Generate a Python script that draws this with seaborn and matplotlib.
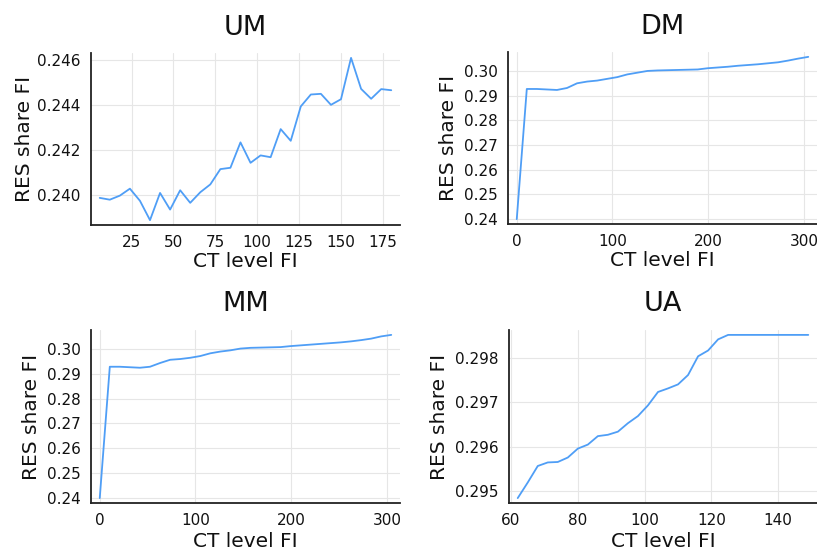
import matplotlib
matplotlib.use("Agg")
import matplotlib.pyplot as plt
import matplotlib.ticker as mticker
import numpy as np
import pandas as pd
import seaborn as sns

# ---- data -------------------------------------------------------------
um_ct = [6, 12, 18, 24, 30, 36, 42, 48, 54, 60, 66, 72, 78, 84, 90,
         96, 102, 108, 114, 120, 126, 132, 138, 144, 150, 156, 162, 168, 174, 180]
um_res = [0.23987, 0.23979, 0.23997, 0.24028, 0.23974, 0.23888, 0.24009, 0.23935,
          0.24021, 0.23965, 0.24012, 0.24047, 0.24115, 0.24121, 0.24234,
          0.24143, 0.24176, 0.24168, 0.24293, 0.24241, 0.24394, 0.24447,
          0.24450, 0.24401, 0.24426, 0.24610, 0.24472, 0.24428, 0.24471, 0.24466]

dm_ct = [0, 10.5, 21, 31.5, 42, 52.5, 63, 73.5, 84, 94.5, 105, 115.5, 126, 136.5,
         147, 157.5, 168, 178.5, 189, 199.5, 210, 220.5, 231, 241.5, 252, 262.5,
         273, 283.5, 294, 304.5]
dm_res = [0.2400, 0.2927, 0.2927, 0.2925, 0.2923, 0.2931, 0.2950, 0.2957, 0.2961,
          0.2968, 0.2975, 0.2986, 0.2993, 0.3000, 0.3002, 0.3003, 0.3004, 0.3005,
          0.3006, 0.3011, 0.3014, 0.3017, 0.3021, 0.3024, 0.3027, 0.3031, 0.3035,
          0.3042, 0.3050, 0.3057]

mm_ct = list(dm_ct)
mm_res = [0.2400, 0.2928, 0.2928, 0.2926, 0.2924, 0.2928, 0.2943, 0.2956, 0.2959,
          0.2964, 0.2971, 0.2982, 0.2989, 0.2994, 0.3001, 0.3004, 0.3005, 0.3006,
          0.3007, 0.3011, 0.3014, 0.3017, 0.3020, 0.3023, 0.3026, 0.3030, 0.3035,
          0.3041, 0.3050, 0.3056]

ua_ct = [62, 65, 68, 71, 74, 77, 80, 83, 86, 89, 92, 95, 98, 101, 104, 107, 110,
         113, 116, 119, 122, 125, 128, 131, 134, 137, 140, 143, 146, 149]
ua_res = [0.29485, 0.29520, 0.29557, 0.29565, 0.29566, 0.29576, 0.29596, 0.29605,
          0.29624, 0.29627, 0.29634, 0.29653, 0.29669, 0.29693, 0.29723, 0.29731,
          0.29740, 0.29761, 0.29803, 0.29816, 0.29841, 0.29851, 0.29851, 0.29851,
          0.29851, 0.29851, 0.29851, 0.29851, 0.29851, 0.29851]

titles = ["UM", "DM", "MM", "UA"]
x_label = "CT level FI"
y_label = "RES share FI"

# ---- style ------------------------------------------------------------
sns.set_theme(style="white")
plt.rcParams["font.family"] = ["DejaVu Sans"]
LINE = "#4f9ef6"
GRID = "#e6e6e6"

W, H = 817, 557
fig = plt.figure(figsize=(W / 100, H / 100), dpi=100)


def px_axes(left, top, right, bottom):
    return fig.add_axes([left / W, 1 - bottom / H, (right - left) / W, (bottom - top) / H])


panels = [
    dict(box=(91, 53, 400, 225), x=um_ct, y=um_res,
         xt=[25, 50, 75, 100, 125, 150, 175], yt=[0.240, 0.242, 0.244, 0.246], yfmt="%.3f",
         ylab=-0.214, xlab=-0.215),
    dict(box=(508, 52, 817, 224), x=dm_ct, y=dm_res,
         xt=[0, 100, 200, 300], yt=[0.24, 0.25, 0.26, 0.27, 0.28, 0.29, 0.30], yfmt="%.2f",
         ylab=-0.194, xlab=-0.215),
    dict(box=(91, 330, 400, 503), x=mm_ct, y=mm_res,
         xt=[0, 100, 200, 300], yt=[0.24, 0.25, 0.26, 0.27, 0.28, 0.29, 0.30], yfmt="%.2f",
         ylab=-0.194, xlab=-0.22),
    dict(box=(509, 330, 817, 503), x=ua_ct, y=ua_res,
         xt=[60, 80, 100, 120, 140], yt=[0.295, 0.296, 0.297, 0.298], yfmt="%.3f",
         ylab=-0.227, xlab=-0.22),
]

for title, p in zip(titles, panels):
    ax = px_axes(*p["box"])
    df = pd.DataFrame({"ct": p["x"], "res": p["y"]})
    sns.lineplot(data=df, x="ct", y="res", ax=ax, color=LINE, linewidth=1.3,
                 estimator=None, sort=False)
    ax.margins(x=0.03, y=0.03)
    ax.set_xticks(p["xt"])
    ax.set_yticks(p["yt"])
    ax.yaxis.set_major_formatter(mticker.FormatStrFormatter(p["yfmt"]))
    ax.grid(True, color=GRID, linewidth=0.8)
    ax.set_axisbelow(True)
    for side in ("top", "right"):
        ax.spines[side].set_visible(False)
    for side in ("left", "bottom"):
        ax.spines[side].set_color("#222222")
        ax.spines[side].set_linewidth(1.3)
    ax.tick_params(axis="both", direction="inout", length=5, width=0.8,
                   colors="#222222", labelsize=11, labelcolor="#111111", pad=5)
    ax.set_xlabel(x_label, fontsize=14.5, color="#111111", va="center")
    ax.set_ylabel(y_label, fontsize=14.5, color="#111111", va="center")
    ax.xaxis.set_label_coords(0.5, p["xlab"])
    ax.yaxis.set_label_coords(p["ylab"], 0.5)
    ax.set_title(title, fontsize=19.5, color="#111111", y=1.107, pad=0)

fig.savefig("out.png", dpi=100)
